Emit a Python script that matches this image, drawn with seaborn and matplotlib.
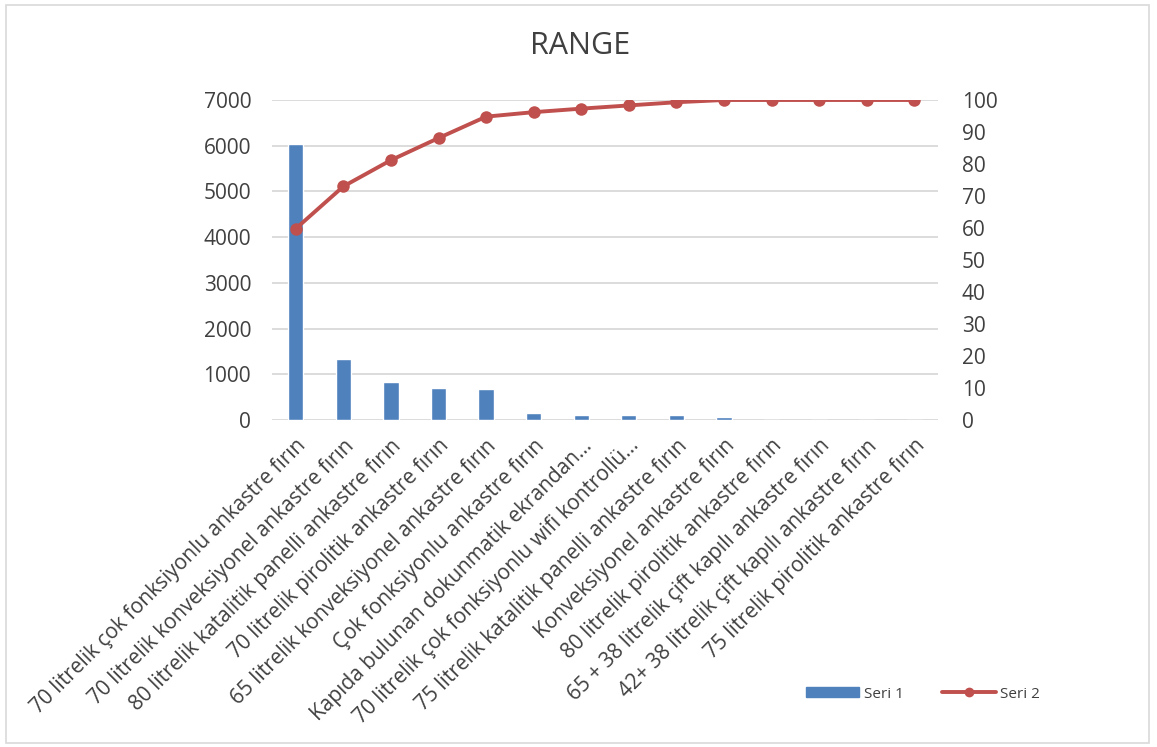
import matplotlib.pyplot as plt
import matplotlib.patches as mpatches
import matplotlib.lines as mlines
import numpy as np
import seaborn as sns
import pandas as pd

# Chart data
categories = [
    '70 litrelik çok fonksiyonlu ankastre fırın',
    '70 litrelik konveksiyonel ankastre fırın',
    '80 litrelik katalitik panelli ankastre fırın',
    '70 litrelik pirolitik ankastre fırın',
    '65 litrelik konveksiyonel ankastre fırın',
    'Çok fonksiyonlu ankastre fırın',
    'Kapıda bulunan dokunmatik ekrandan…',
    '70 litrelik çok fonksiyonlu wifi kontrollü…',
    '75 litrelik katalitik panelli ankastre fırın',
    'Konveksiyonel ankastre fırın',
    '80 litrelik pirolitik ankastre fırın',
    '65 + 38 litrelik çift kapılı ankastre fırın',
    '42+ 38 litrelik çift kapılı ankastre fırın',
    '75 litrelik pirolitik ankastre fırın',
]
seri1 = [6040, 1334, 825, 694, 678, 146, 109, 103, 103, 66, 0, 0, 0, 0]
seri2 = [59.8, 73.0, 81.2, 88.1, 94.8, 96.2, 97.3, 98.3, 99.3, 100, 100, 100, 100, 100]
left_ticks = [0, 1000, 2000, 3000, 4000, 5000, 6000, 7000]
right_ticks = [0, 10, 20, 30, 40, 50, 60, 70, 80, 90, 100]

bar_color = '#4F81BD'
line_color = '#C0504D'
text_color = '#404040'

sns.set_style('white')
plt.rcParams['font.family'] = ['Open Sans', 'DejaVu Sans']

df = pd.DataFrame({'cat': categories, 'seri1': seri1, 'seri2': seri2, 'pos': np.arange(len(categories))})

fig = plt.figure(figsize=(11.57, 7.47), dpi=100)
ax = fig.add_axes([272 / 1157, 1 - 420 / 747, (938 - 272) / 1157, 320 / 747])

sns.barplot(data=df, x='cat', y='seri1', ax=ax, color=bar_color, width=0.32, saturation=1)
ax.set_ylim(0, 7000)
ax.set_yticks(left_ticks)
ax.yaxis.grid(True, color='#D9D9D9', linewidth=1.3)
ax.set_axisbelow(True)
for s in ax.spines.values():
    s.set_visible(False)
ax.set_xlabel('')
ax.set_ylabel('')
ax.tick_params(axis='y', length=0, pad=15, labelsize=15, labelcolor=text_color)
ax.tick_params(axis='x', length=0, pad=11, labelsize=15, labelcolor=text_color)
ax.set_xticks(range(len(categories)))
ax.set_xticklabels(categories, rotation=45, ha='right', rotation_mode='anchor')
ax.set_xlim(-0.5, len(categories) - 0.5)

ax2 = ax.twinx()
sns.lineplot(data=df, x='pos', y='seri2', ax=ax2, color=line_color, linewidth=2.8,
             marker='o', markersize=9, markeredgewidth=0)
ax2.set_ylim(0, 100)
ax2.set_yticks(right_ticks)
ax2.set_xlim(-0.5, len(categories) - 0.5)
for s in ax2.spines.values():
    s.set_visible(False)
ax2.set_ylabel('')
ax2.set_xlabel('')
ax2.tick_params(axis='y', length=0, pad=17, labelsize=15, labelcolor=text_color)

fig.text(580 / 1157, 1 - 46 / 747, 'RANGE', ha='center', va='center', fontsize=22, color=text_color)

handles = [
    mpatches.Patch(color=bar_color, label='Seri 1'),
    mlines.Line2D([], [], color=line_color, linewidth=2.8, marker='o', markersize=6, label='Seri 2'),
]
fig.legend(handles=handles, loc='center', bbox_to_anchor=(923 / 1157, 1 - 694 / 747), ncol=2,
           frameon=False, fontsize=11, handlelength=3.5, handleheight=0.6, columnspacing=2.5,
           handletextpad=0.3, labelcolor=text_color)

# chart area border
fig.patches.append(mpatches.Rectangle((6 / 1157, 4 / 747), 1 - 14 / 1157, 1 - 9 / 747,
                                      transform=fig.transFigure, fill=False,
                                      edgecolor='#D9D9D9', linewidth=1.2))

fig.savefig('out.png', dpi=100)
